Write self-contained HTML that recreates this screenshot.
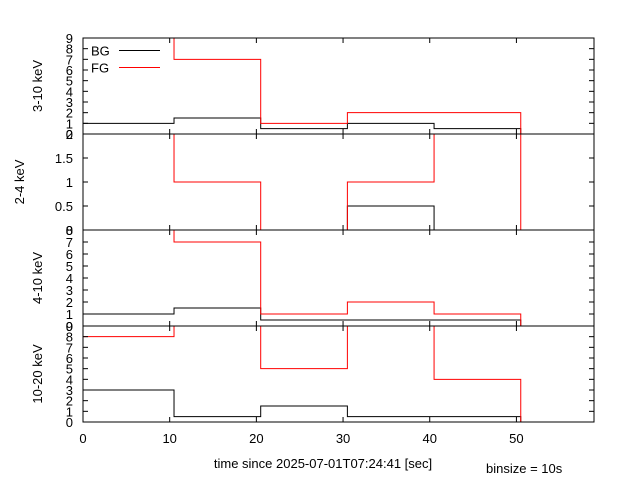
<!DOCTYPE html>
<html><head><meta charset="utf-8"><style>
html,body{margin:0;padding:0;background:#fff;}
svg{display:block;font-family:"Liberation Sans",sans-serif;}
</style></head><body>
<svg id="c" width="640" height="480" viewBox="0 0 640 480"></svg>
<script>
const edges = [0, 10.5, 20.5, 30.5, 40.5, 50.5];
const panelNames = ["3-10 keV", "2-4 keV", "4-10 keV", "10-20 keV"];
const panelMax = [9, 2, 8, 9];
const bg310 = [1, 1.5, 0.5, 1, 0.5];
const fg310 = [20, 7, 1, 2, 2];
const bg24 = [0, 0, 0, 0.5, 0];
const fg24 = [20, 1, 0, 1, 20];
const bg410 = [1, 1.5, 0.5, 0.5, 0.5];
const fg410 = [20, 7, 1, 2, 1];
const bg1020 = [3, 0.5, 1.5, 0.5, 0.5];
const fg1020 = [8, 20, 5, 20, 4];
const xTicks = [0, 10, 20, 30, 40, 50];
const yTicks = [[0,1,2,3,4,5,6,7,8,9],[0,0.5,1,1.5,2],[0,1,2,3,4,5,6,7,8],[0,1,2,3,4,5,6,7,8,9]];

const NS = "http://www.w3.org/2000/svg";
const svg = document.getElementById("c");
const L = 83, R = 594, XMAX = 58.95;
const tops = [38, 134, 230, 326], H = 96;
const xs = v => L + v / XMAX * (R - L);
function mk(tag, attrs, parent) {
  const e = document.createElementNS(NS, tag);
  for (const k in attrs) e.setAttribute(k, attrs[k]);
  (parent || svg).appendChild(e);
  return e;
}
const series = [[bg310, fg310], [bg24, fg24], [bg410, fg410], [bg1020, fg1020]];
const defs = mk("defs", {});
for (let p = 0; p < 4; p++) {
  const top = tops[p], bot = top + H, max = panelMax[p];
  const ys = v => bot - v / max * H;
  const g = mk("g", {});
  
  
  const cp = mk("clipPath", { id: "cp" + p }, defs);
  mk("rect", { x: L, y: top, width: R - L, height: H }, cp);
  // data
  const cols = ["#000", "#f00"];
  for (let s = 0; s < 2; s++) {
    const vals = series[p][s];
    let d = "M" + xs(edges[0]) + "," + ys(vals[0]);
    for (let i = 0; i < vals.length; i++) {
      d += " L" + xs(edges[i + 1]) + "," + ys(vals[i]);
      const nv = i + 1 < vals.length ? vals[i + 1] : 0;
      d += " L" + xs(edges[i + 1]) + "," + ys(nv);
    }
    const path = mk("path", { d: d, fill: "none", stroke: cols[s], "stroke-width": 1, "clip-path": "url(#cp" + p + ")" }, g);
    
    
  }
  // frame
  const fr = mk("rect", { x: L, y: top, width: R - L, height: H, fill: "none", stroke: "#000", "stroke-width": 1 }, g);
  
  
  // x ticks
  for (const t of xTicks) {
    const x = xs(t);
    mk("line", { x1: x, y1: bot, x2: x, y2: bot - 5, stroke: "#000" }, g);
    mk("line", { x1: x, y1: top, x2: x, y2: top + 5, stroke: "#000" }, g);
  }
  // y ticks
  for (const t of yTicks[p]) {
    const y = ys(t);
    mk("line", { x1: L, y1: y, x2: L + 5, y2: y, stroke: "#000" }, g);
    mk("line", { x1: R, y1: y, x2: R - 5, y2: y, stroke: "#000" }, g);
    const tx = mk("text", { x: 73, y: y + 5, "text-anchor": "end", "font-size": 13 }, g);
    tx.textContent = String(t);
    
    
  }
  const lx = p === 1 ? 24 : 42;
  const yl = mk("text", { x: lx, y: top + H / 2, "text-anchor": "middle", "font-size": 13, transform: "rotate(-90 " + lx + " " + (top + H / 2) + ")" }, g);
  yl.textContent = panelNames[p];
  
  
}
for (const t of xTicks) {
  const tx = mk("text", { x: xs(t), y: 443, "text-anchor": "middle", "font-size": 13 });
  tx.textContent = String(t);
  
  
}
const xl = mk("text", { x: 323, y: 468, "text-anchor": "middle", "font-size": 13 });
xl.textContent = "time since 2025-07-01T07:24:41 [sec]";


const bs = mk("text", { x: 486, y: 473, "font-size": 13 });
bs.textContent = "binsize = 10s";


const legLabels = ["BG", "FG"], legCols = ["#000", "#f00"], legY = [50.5, 67.5];
for (let i = 0; i < 2; i++) {
  const g = mk("g", {});
  
  
  const t = mk("text", { x: 91, y: legY[i] + 5, "font-size": 13 }, g);
  t.textContent = legLabels[i];
  mk("line", { x1: 119, y1: legY[i], x2: 160, y2: legY[i], stroke: legCols[i] }, g);
}
</script>
</body></html>
